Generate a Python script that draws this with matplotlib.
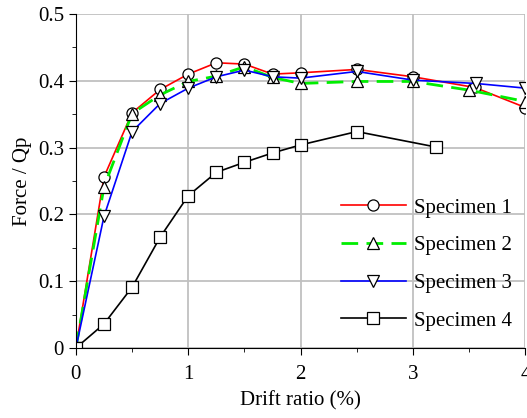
import matplotlib.pyplot as plt
from matplotlib.ticker import MultipleLocator

plt.rcParams['font.family'] = ['Liberation Serif', 'DejaVu Serif']

# drift ratio (%) and normalised force for each specimen
x1 = [0, 0.25, 0.5, 0.75, 1.0, 1.25, 1.5, 1.75, 2.0, 2.5, 3.0, 3.55, 4.0]
y1 = [0, 0.256, 0.352, 0.387, 0.410, 0.427, 0.425, 0.410, 0.412, 0.417, 0.406, 0.390, 0.360]

x2 = [0, 0.25, 0.5, 0.75, 1.0, 1.25, 1.5, 1.75, 2.0, 2.5, 3.0, 3.5, 4.0]
y2 = [0, 0.241, 0.351, 0.379, 0.399, 0.407, 0.421, 0.405, 0.396, 0.399, 0.399, 0.386, 0.369]

x3 = [0, 0.25, 0.5, 0.75, 1.0, 1.25, 1.5, 1.75, 2.0, 2.5, 3.0, 3.56, 4.0]
y3 = [0, 0.197, 0.324, 0.366, 0.389, 0.406, 0.416, 0.406, 0.404, 0.414, 0.401, 0.396, 0.389]

x4 = [0, 0.25, 0.5, 0.75, 1.0, 1.25, 1.5, 1.75, 2.0, 2.5, 3.2]
y4 = [0, 0.036, 0.091, 0.166, 0.228, 0.263, 0.278, 0.292, 0.304, 0.324, 0.301]

labels = ['Specimen 1', 'Specimen 2', 'Specimen 3', 'Specimen 4']

fig = plt.figure(figsize=(5.27, 4.18), dpi=100)
ax = fig.add_axes([0.144, 0.1675, 0.853, 0.799])

mk = dict(markersize=8, markerfacecolor='white', markeredgecolor='black', markeredgewidth=0.9)
ax.plot(x1, y1, color='red', lw=1.2, marker='o', label=labels[0], **mk)
ax.plot(x2, y2, color='#00ee00', lw=2.0, ls=(0, (6, 3)), marker='^', label=labels[1], **mk)
ax.plot(x3, y3, color='blue', lw=1.2, marker='v', label=labels[2], **mk)
ax.plot(x4, y4, color='black', lw=1.2, marker='s', label=labels[3], **mk)

ax.set_xlim(0, 4)
ax.set_ylim(0, 0.5)
ax.xaxis.set_major_locator(MultipleLocator(1))
ax.xaxis.set_minor_locator(MultipleLocator(0.5))
ax.yaxis.set_minor_locator(MultipleLocator(0.05))
ax.set_yticks([0, 0.1, 0.2, 0.3, 0.4, 0.5])
ax.set_yticklabels(['0', '0.1', '0.2', '0.3', '0.4', '0.5'])
ax.tick_params(which='major', direction='out', length=5, labelsize=15)
ax.tick_params(which='minor', direction='out', length=3)
ax.tick_params(axis='x', which='major', pad=7)
ax.grid(True, color='#c0c0c0', lw=1.3)
ax.set_axisbelow(True)
for s in ['top', 'right']:
    ax.spines[s].set_visible(False)

ax.set_xlabel('Drift ratio (%)', fontsize=15, labelpad=5)
ax.set_ylabel('Force / Qp', fontsize=15, labelpad=4)

ax.legend(loc='upper left', bbox_to_anchor=(0.548, 0.505), frameon=False, fontsize=15,
          handlelength=3.1, labelspacing=0.87, handletextpad=0.4)

plt.savefig('out.png', dpi=100)
